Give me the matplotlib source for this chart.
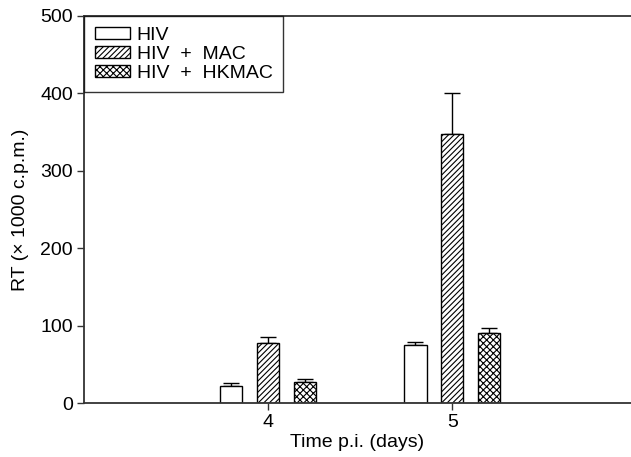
import numpy as np
import matplotlib
matplotlib.use("Agg")
import matplotlib.pyplot as plt

plt.rcParams['font.family'] = ['Liberation Sans', 'DejaVu Sans']
plt.rcParams['hatch.linewidth'] = 0.8

days = [4, 5]
labels = ['HIV', 'HIV  +  MAC', 'HIV  +  HKMAC']
means = [[22, 75], [77, 347], [27, 90]]
errs = [[4, 4], [8, 53], [4, 7]]
hatches = ['', '//////', 'xxxxx']

fig = plt.figure(figsize=(6.31, 4.57), dpi=100)
ax = fig.add_axes([0.133, 0.118, 0.867, 0.847])

width = 0.12
offsets = [-0.2, 0.0, 0.2]
x = np.array(days, dtype=float)
for i in range(3):
    ax.bar(x + offsets[i], means[i], width, color='white', edgecolor='black',
           linewidth=1, hatch=hatches[i], label=labels[i], zorder=2)
    ax.errorbar(x + offsets[i], means[i], yerr=[np.zeros(2), errs[i]], fmt='none',
                ecolor='black', elinewidth=1, capsize=6, capthick=1, zorder=1)

ax.set_xlim(3, 5.97)
ax.set_ylim(0, 500)
ax.set_xticks(days)
ax.set_yticks([0, 100, 200, 300, 400, 500])
ax.spines['right'].set_visible(False)
for s in ['left', 'top', 'bottom']:
    ax.spines[s].set_linewidth(1.3)
    ax.spines[s].set_color('#333333')
ax.tick_params(axis='both', labelsize=14, length=5, width=1, color='#333333', pad=3)
ax.set_xlabel('Time p.i. (days)', fontsize=14, labelpad=2)
ax.set_ylabel('RT (\u00d7 1000 c.p.m.)', fontsize=14, labelpad=8)

leg = ax.legend(loc='upper left', bbox_to_anchor=(0, 1), borderaxespad=0, fontsize=14,
                frameon=True, fancybox=False, edgecolor='black', handlelength=1.8,
                handleheight=0.55, labelspacing=0.1, handletextpad=0.36,
                borderpad=0.55)
leg.get_frame().set_linewidth(1)

fig.savefig('out.png', dpi=100)
